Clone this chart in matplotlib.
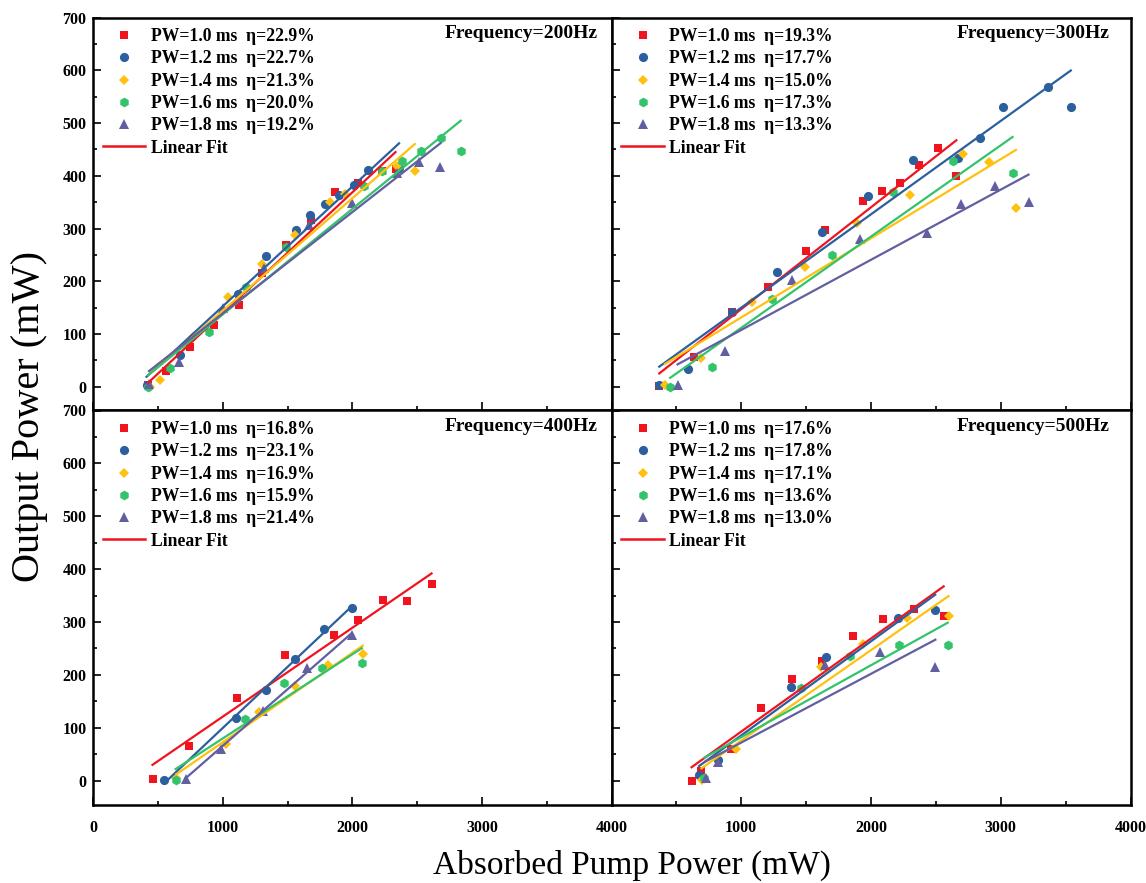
import numpy as np
import matplotlib
matplotlib.use("Agg")
import matplotlib.pyplot as plt
from matplotlib.lines import Line2D
from matplotlib.ticker import MultipleLocator

plt.rcParams['font.family'] = ['Liberation Serif', 'DejaVu Serif']
plt.rcParams['font.weight'] = 'bold'

# ---------------- data ----------------
frequencies = ['200Hz', '300Hz', '400Hz', '500Hz']
pulse_widths = ['1.0', '1.2', '1.4', '1.6', '1.8']

eta_200 = [22.9, 22.7, 21.3, 20.0, 19.2]
eta_300 = [19.3, 17.7, 15.0, 17.3, 13.3]
eta_400 = [16.8, 23.1, 16.9, 15.9, 21.4]
eta_500 = [17.6, 17.8, 17.1, 13.6, 13.0]

# 200 Hz
f200_pw10_x = [423, 559, 744, 931, 1121, 1300, 1487, 1679, 1867, 2046, 2231, 2333]
f200_pw10_y = [3, 30, 75, 117, 155, 215, 268, 317, 369, 387, 409, 412]
f200_pw12_x = [411, 667, 1115, 1334, 1565, 1675, 1790, 1897, 2013, 2123, 2360]
f200_pw12_y = [3, 60, 176, 247, 298, 326, 347, 364, 383, 411, 415]
f200_pw14_x = [436, 518, 769, 1038, 1300, 1560, 1826, 1944, 2346, 2482]
f200_pw14_y = [0, 13, 95, 170, 233, 288, 351, 366, 418, 409]
f200_pw16_x = [423, 595, 892, 1180, 1485, 2090, 2231, 2385, 2533, 2683, 2836]
f200_pw16_y = [0, 36, 103, 189, 264, 381, 409, 428, 447, 472, 447]
f200_pw18_x = [430, 662, 1000, 1320, 1667, 2000, 2346, 2513, 2680]
f200_pw18_y = [5, 47, 150, 225, 307, 349, 405, 427, 416]

# 300 Hz
f300_pw10_x = [368, 632, 927, 1209, 1501, 1645, 1935, 2081, 2227, 2371, 2514, 2658]
f300_pw10_y = [1, 56, 141, 189, 258, 297, 352, 372, 387, 420, 452, 399]
f300_pw12_x = [368, 586, 927, 1278, 1624, 1976, 2322, 2668, 2842, 3017, 3363, 3540]
f300_pw12_y = [3, 33, 141, 217, 293, 361, 430, 434, 471, 531, 569, 531]
f300_pw14_x = [412, 688, 1086, 1491, 1894, 2304, 2709, 2912, 3117]
f300_pw14_y = [3, 54, 160, 227, 311, 363, 442, 427, 338]
f300_pw16_x = [452, 773, 1240, 1701, 2168, 2632, 3091]
f300_pw16_y = [0, 38, 166, 250, 369, 428, 406]
f300_pw18_x = [509, 873, 1394, 1912, 2432, 2696, 2958, 3214]
f300_pw18_y = [3, 68, 203, 281, 292, 347, 380, 350]

# 400 Hz
f400_pw10_x = [457, 736, 1108, 1482, 1859, 2046, 2236, 2423, 2611]
f400_pw10_y = [3, 66, 157, 237, 275, 303, 341, 339, 371]
f400_pw12_x = [544, 1103, 1334, 1557, 1782, 2000]
f400_pw12_y = [2, 118, 172, 230, 287, 326]
f400_pw14_x = [641, 1026, 1282, 1560, 1812, 2080]
f400_pw14_y = [5, 70, 130, 180, 218, 240]
f400_pw16_x = [636, 1172, 1469, 1769, 2072]
f400_pw16_y = [1, 116, 185, 213, 222]
f400_pw18_x = [713, 982, 1308, 1646, 1995]
f400_pw18_y = [3, 60, 131, 213, 275]

# 500 Hz
f500_pw10_x = [617, 688, 919, 1155, 1394, 1625, 1860, 2094, 2329, 2560]
f500_pw10_y = [0, 19, 60, 137, 193, 227, 273, 306, 325, 311]
f500_pw12_x = [675, 817, 1380, 1655, 2210, 2495]
f500_pw12_y = [10, 40, 177, 233, 307, 322]
f500_pw14_x = [694, 958, 1612, 1940, 2278, 2598]
f500_pw14_y = [1, 60, 215, 259, 307, 311]
f500_pw16_x = [714, 1458, 1842, 2214, 2591]
f500_pw16_y = [6, 175, 236, 257, 257]
f500_pw18_x = [727, 817, 1642, 2068, 2496]
f500_pw18_y = [6, 36, 218, 243, 215]

xtick_values = [0, 1000, 2000, 3000, 4000]
xtick_labels_left = ['0', '1000', '2000', '3000', '4000']
xtick_labels_right = ['', '1000', '2000', '3000', '4000']

# ---------------- style ----------------
colors = ['#F0141E', '#2C5F9E', '#FFC10E', '#33C36A', '#625FA0']
markers = ['s', 'o', 'D', 'h', '^']
msizes = [6.0, 6.6, 5.4, 7.0, 7.0]

panels = [
    ('200Hz', eta_200, [(f200_pw10_x, f200_pw10_y), (f200_pw12_x, f200_pw12_y), (f200_pw14_x, f200_pw14_y),
                        (f200_pw16_x, f200_pw16_y), (f200_pw18_x, f200_pw18_y)]),
    ('300Hz', eta_300, [(f300_pw10_x, f300_pw10_y), (f300_pw12_x, f300_pw12_y), (f300_pw14_x, f300_pw14_y),
                        (f300_pw16_x, f300_pw16_y), (f300_pw18_x, f300_pw18_y)]),
    ('400Hz', eta_400, [(f400_pw10_x, f400_pw10_y), (f400_pw12_x, f400_pw12_y), (f400_pw14_x, f400_pw14_y),
                        (f400_pw16_x, f400_pw16_y), (f400_pw18_x, f400_pw18_y)]),
    ('500Hz', eta_500, [(f500_pw10_x, f500_pw10_y), (f500_pw12_x, f500_pw12_y), (f500_pw14_x, f500_pw14_y),
                        (f500_pw16_x, f500_pw16_y), (f500_pw18_x, f500_pw18_y)]),
]

W, H = 1146, 883
fig = plt.figure(figsize=(W / 100, H / 100), dpi=100)

Lx, Mx, Rx = 93.3 / W, 611.5 / W, 1130.5 / W
Ty, My, By = 1 - 17.5 / H, 1 - 410.5 / H, 1 - 804.5 / H
rects = [
    [Lx, My, Mx - Lx, Ty - My],
    [Mx, My, Rx - Mx, Ty - My],
    [Lx, By, Mx - Lx, My - By],
    [Mx, By, Rx - Mx, My - By],
]

for i, (rect, (freq, etas, series)) in enumerate(zip(rects, panels)):
    ax = fig.add_axes(rect)
    ax.set_xlim(0, 4000)
    ax.set_ylim(-45, 700)
    handles = []
    for k, ((xs, ys), eta) in enumerate(zip(series, etas)):
        xs = np.asarray(xs, float)
        ys = np.asarray(ys, float)
        h, = ax.plot(xs, ys, linestyle='none', marker=markers[k], ms=msizes[k],
                     color=colors[k], markeredgewidth=0, zorder=2,
                     label=f'PW={pulse_widths[k]} ms  \u03b7={eta:.1f}%')
        handles.append(h)
        slope = eta / 100.0
        b = ys.mean() - slope * xs.mean()
        xf = np.array([xs.min(), xs.max()])
        ax.plot(xf, slope * xf + b, color=colors[k], lw=1.6, zorder=3)
    handles.append(Line2D([], [], color=colors[0], lw=1.8, label='Linear Fit'))

    ax.legend(handles=handles, loc='upper left', bbox_to_anchor=(0.019, 0.973),
              frameon=False, borderpad=0, borderaxespad=0, handlelength=2.4,
              handletextpad=0.3, labelspacing=0.30,
              prop={'family': 'Liberation Serif', 'weight': 'bold', 'size': 12.7})

    right_col = i % 2 == 1
    ax.text(0.96 if right_col else 0.973, 0.96, f'Frequency={freq}', transform=ax.transAxes,
            ha='right', va='center', fontsize=14, fontweight='bold')

    ax.xaxis.set_minor_locator(MultipleLocator(500))
    ax.yaxis.set_major_locator(MultipleLocator(100))
    ax.yaxis.set_minor_locator(MultipleLocator(50))
    ax.set_xticks(xtick_values, xtick_labels_right if right_col else xtick_labels_left)
    ax.tick_params(which='both', direction='in', top=False, right=False, width=1.2,
                   labelsize=11.5)
    ax.tick_params(which='major', length=5.5)
    ax.tick_params(which='minor', length=3)
    ax.tick_params(axis='x', pad=11)
    ax.tick_params(axis='y', pad=5)
    if right_col:
        ax.tick_params(labelleft=False)
    if i < 2:
        ax.tick_params(labelbottom=False)
    for sp in ax.spines.values():
        sp.set_linewidth(1.8)

fig.text(632 / W, 1 - 865 / H, 'Absorbed Pump Power (mW)', ha='center', va='center',
         fontsize=24, fontweight='normal')
fig.text(30 / W, 1 - 417 / H, 'Output Power (mW)', ha='center', va='center',
         rotation=90, fontsize=29, fontweight='normal')

fig.savefig('out.png', dpi=100)
